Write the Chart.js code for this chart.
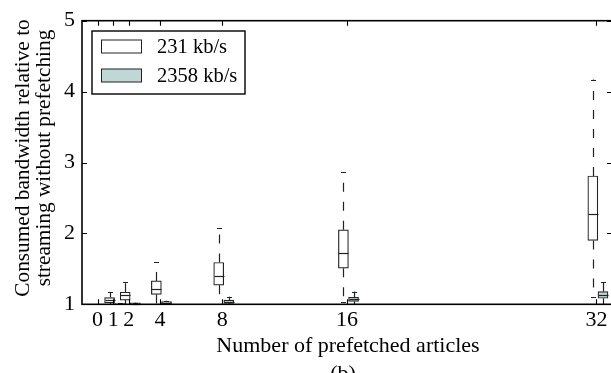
<!DOCTYPE html>
<html><head><meta charset="utf-8">
<script src="https://cdn.jsdelivr.net/npm/chart.js@4"></script>
<style>html,body{margin:0;padding:0;overflow:hidden;background:#fff}canvas{display:block}</style>
</head><body>
<canvas id="c" width="616" height="373"></canvas>
<script>
// ---- data ----
const categories = [0, 1, 2, 4, 8, 16, 32];
const xTickLabels = ['0', '1', '2', '4', '8', '16', '32'];
const yTickValues = [1, 2, 3, 4, 5];
const seriesNames = ['231 kb/s', '2358 kb/s'];

const lowA    = [1.00, 1.00, 1.00, 1.00, 1.01, 1.03, 1.10];
const q1A     = [1.00, 1.02, 1.06, 1.14, 1.27, 1.51, 1.90];
const medA    = [1.00, 1.06, 1.125, 1.22, 1.40, 1.72, 2.27];
const q3A     = [1.00, 1.095, 1.17, 1.33, 1.59, 2.05, 2.81];
const highA   = [1.00, 1.17, 1.32, 1.59, 2.07, 2.86, 4.17];

const lowB    = [1.00, 1.00, 1.00, 1.00, 1.00, 1.00, 1.00];
const q1B     = [1.00, 1.00, 1.003, 1.005, 1.014, 1.04, 1.085];
const medB    = [1.00, 1.005, 1.01, 1.02, 1.037, 1.07, 1.13];
const q3B     = [1.00, 1.01, 1.02, 1.037, 1.06, 1.10, 1.18];
const highB   = [1.00, 1.015, 1.025, 1.05, 1.107, 1.18, 1.31];

const xTitle = 'Number of prefetched articles';
const yTitle = ['Consumed bandwidth relative to', 'streaming without prefetching'];
const subTitle = '(b)';

// ---- styles / layout ----
const FONT = '"Liberation Serif", "Times New Roman", serif';
const EDGE = '#222';
const fills = ['#ffffff', '#bfd8d6'];
const offsets = [-0.23, 0.42];
const BOXW = 10;

const series = [
  {low: lowA, q1: q1A, med: medA, q3: q3A, high: highA},
  {low: lowB, q1: q1B, med: medB, q3: q3B, high: highB}
];

const datasets = series.map((s, si) => ({
  type: 'bar',
  label: seriesNames[si],
  data: categories.map((c, i) => ({x: c + offsets[si], y: [s.q1[i], s.q3[i]]})),
  backgroundColor: fills[si],
  borderColor: EDGE,
  borderWidth: 1.2,
  borderSkipped: false,
  barThickness: BOXW,
  grouped: false
}));

const extras = {
  id: 'extras',
  afterDatasetsDraw(chart) {
    const {ctx, scales: {x, y}, chartArea: a} = chart;
    ctx.save();
    ctx.strokeStyle = EDGE;
    ctx.lineWidth = 1.2;
    series.forEach((s, si) => {
      categories.forEach((c, i) => {
        const cx = Math.round(x.getPixelForValue(c + offsets[si])) + 0.5;
        const yl = y.getPixelForValue(s.low[i]);
        const y1 = y.getPixelForValue(s.q1[i]);
        const ym = y.getPixelForValue(s.med[i]);
        const y3 = y.getPixelForValue(s.q3[i]);
        const yh = y.getPixelForValue(s.high[i]);
        ctx.setLineDash([9, 10]);
        ctx.beginPath(); ctx.moveTo(cx, y3); ctx.lineTo(cx, yh); ctx.stroke();
        ctx.beginPath(); ctx.moveTo(cx, y1); ctx.lineTo(cx, yl); ctx.stroke();
        ctx.setLineDash([]);
        ctx.beginPath();
        ctx.moveTo(cx - BOXW / 4, Math.round(yh) + 0.5); ctx.lineTo(cx + BOXW / 4, Math.round(yh) + 0.5);
        ctx.moveTo(cx - BOXW / 4, Math.round(yl) + 0.5); ctx.lineTo(cx + BOXW / 4, Math.round(yl) + 0.5);
        ctx.stroke();
        if (y1 - y3 > 1) {
          ctx.beginPath();
          ctx.moveTo(cx - BOXW / 2, Math.round(ym) + 0.5); ctx.lineTo(cx + BOXW / 2, Math.round(ym) + 0.5);
          ctx.stroke();
        }
      });
    });
    // frame
    ctx.strokeStyle = '#000';
    ctx.lineWidth = 1.6;
    ctx.strokeRect(a.left, a.top, a.right - a.left, a.bottom - a.top);
    // inward ticks
    ctx.lineWidth = 1.1;
    const TL = 5;
    ctx.beginPath();
    categories.forEach(c => {
      const px = Math.round(x.getPixelForValue(c)) + 0.5;
      ctx.moveTo(px, a.top); ctx.lineTo(px, a.top + TL);
      ctx.moveTo(px, a.bottom); ctx.lineTo(px, a.bottom - TL);
    });
    yTickValues.forEach(v => {
      const py = Math.round(y.getPixelForValue(v)) + 0.5;
      ctx.moveTo(a.left, py); ctx.lineTo(a.left + TL, py);
      ctx.moveTo(a.right, py); ctx.lineTo(a.right - TL, py);
    });
    ctx.stroke();

    // legend
    ctx.fillStyle = '#fff';
    ctx.fillRect(92, 31, 153, 63);
    ctx.strokeStyle = '#000';
    ctx.lineWidth = 1.4;
    ctx.strokeRect(92, 31, 153, 63);
    ctx.lineWidth = 1;
    ctx.font = '20.5px ' + FONT;
    ctx.textBaseline = 'middle';
    ctx.textAlign = 'left';
    seriesNames.forEach((n, si) => {
      const ty = 46.5 + si * 29;
      ctx.fillStyle = fills[si];
      ctx.fillRect(101, ty - 6.5, 40, 13);
      ctx.strokeStyle = EDGE;
      ctx.strokeRect(101.5, ty - 6.5, 40, 13);
      ctx.fillStyle = '#000';
      ctx.fillText(n, 157, ty + 1);
    });

    // titles
    ctx.fillStyle = '#000';
    ctx.font = '22px ' + FONT;
    ctx.textAlign = 'center';
    ctx.textBaseline = 'middle';
    const cxMid = (a.left + a.right) / 2;
    ctx.fillText(xTitle, cxMid + 1, 346);
    ctx.textBaseline = 'alphabetic';
    ctx.fillText(subTitle, cxMid - 4, 380);
    ctx.save();
    ctx.font = '21.3px ' + FONT;
    ctx.translate(0, 158);
    ctx.rotate(-Math.PI / 2);
    ctx.textBaseline = 'middle';
    ctx.fillText(yTitle[0], 0, 23);
    ctx.fillText(yTitle[1], 0, 44);
    ctx.restore();
    ctx.restore();
  }
};

new Chart(document.getElementById('c'), {
  type: 'bar',
  data: {datasets},
  options: {
    responsive: false,
    animation: false,
    devicePixelRatio: 1,
    layout: {padding: {top: 20.7, right: 4, left: 0, bottom: 0}},
    plugins: {legend: {display: false}, tooltip: {enabled: false}},
    scales: {
      x: {
        type: 'linear', min: -1, max: 33, offset: false,
        grid: {display: false, drawTicks: false}, border: {display: false},
        afterBuildTicks: s => { s.ticks = categories.map(v => ({value: v})); },
        ticks: {
          autoSkip: false, maxRotation: 0, padding: 3, color: '#000',
          font: {family: FONT, size: 22},
          callback: (v) => xTickLabels[categories.indexOf(v)]
        },
        afterFit: s => { s.height = 373 - 304.3; }
      },
      y: {
        type: 'linear', min: 1, max: 5,
        grid: {display: false, drawTicks: false}, border: {display: false},
        afterBuildTicks: s => { s.ticks = yTickValues.map(v => ({value: v})); },
        ticks: {padding: 7, color: '#000', font: {family: FONT, size: 22}},
        afterFit: s => { s.width = 82; }
      }
    }
  },
  plugins: [extras]
});
</script>
</body></html>
